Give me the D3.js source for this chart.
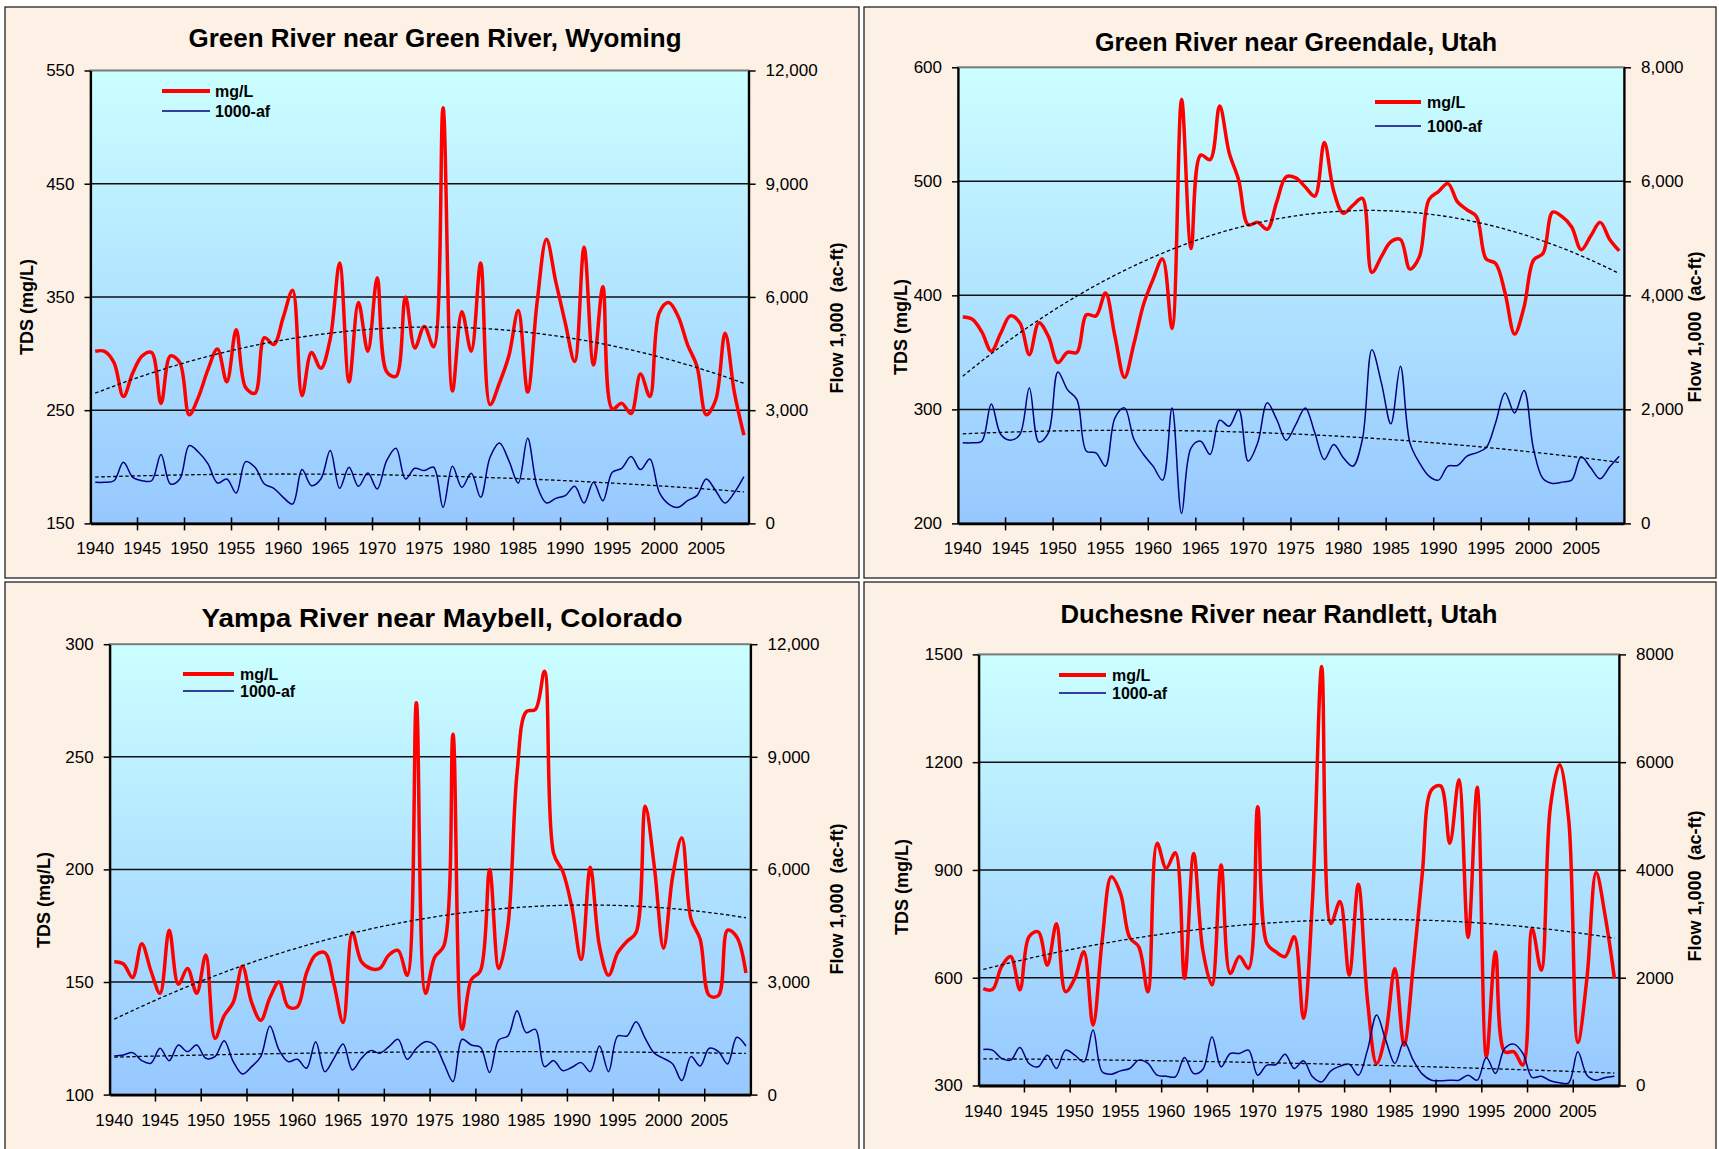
<!DOCTYPE html>
<html>
<head>
<meta charset="utf-8">
<script src="https://cdn.jsdelivr.net/npm/d3@7"></script>
<style>
  body { margin: 0; background: #fff; }
  svg { display: block; }
  text { font-family: "Liberation Sans", Arial, sans-serif; }
</style>
</head>
<body>
<svg width="1719" height="1149"></svg>
<script>
// categories
const years = d3.range(1940, 2010);
const yearLabels = [1940, 1945, 1950, 1955, 1960, 1965, 1970, 1975, 1980, 1985, 1990, 1995, 2000, 2005];

// Green River near Green River, Wyoming
const tdsWyoming = [302,302,292,262,283,298,301,256,298,292, 246,262,286,304,275,321,270,265,314,308,
  332,356,263,301,287,313,380,275,345,302, 367,284,280,350,305, 324,306,517,267,337,
  302,380,255,274,298, 338,266,345,401,363, 327,293,394,290,359, 251,256,247,282,262,
  336,345,333,308,289, 246,259,318,265,228];
const flowWyoming = [1089,1089,1130,1620,1220,1130,1130,1823,1044,1177, 2062,1885,1575,1070,1177,805,1637,1487,1044,929,
  690,513,1425,1000,1177,1930,929,1487,982,1336, 912,1664,1990,1177,1460, 1400,1487,425,1513,956,
  1327,690,1752,2133,1664, 1070,2257,1000,540,664, 735,982,540,1089,602, 1354,1460,1770,1425,1708,
  823,513,425,602,735, 1177,867,540,823,1239];

// Green River near Greendale, Utah
const tdsGreendale = [381,379,368,351,367,382,376,348,376,364, 341,350,350,383,382,402,364,328,358,392,
  414,432,371,572,441,523,519,566,525,501, 462,464,458,482,504, 503,495,487,534,491,
  472,479,485,420,434, 447,449,423,434,484, 491,498,482,475,469, 432,428,402,366,390,
  431,437,473,469,460, 440,452,464,449,439];
const flowGreendale = [1413,1413,1442,2096,1559,1460,1559,2376,1425,1588, 2657,2347,2172,1267,1238,1004,1851,2026,1471,1209,
  1004,759,2026,175,1325,1442,1209,1810,1705,1997, 1092,1413,2114,1822,1460, 1734,2026,1588,1121,1384,
  1150,1004,1471,3048,2464, 1746,2756,1413,1063,829, 759,1004,1016,1179,1238, 1325,1763,2289,1938,2330,
  1296,782,701,724,759, 1168,975,782,993,1179];

// Yampa River near Maybell, Colorado
const tdsYampa = [159,158,152,167,155,145,173,149,156,145, 162,125,135,141,157,141,133,143,150,139,
  139,154,162,163,149,132,172,159,156,156, 162,164,153,274,145, 161,166,260,129,151,
  155,200,156,175,243, 270,271,288,207,199, 183,160,201,166,153, 163,168,172,228,201,
  165,197,214,178,169, 144,144,173,170,154];
const flowYampa = [1030,1056,1118,905,834,1234,905,1322,1145,1322, 967,1012,1438,879,550,746,1012,1828,1189,879,
  941,701,1411,612,967,1349,657,967,1172,1101, 1278,1473,941,1234,1411, 1322,834,346,1473,1322,
  1260,586,1456,1562,2237, 1651,1740,746,905,639, 728,852,612,1296,612, 1562,1562,1944,1500,1101,
  967,817,373,1012,763, 1234,1145,817,1527,1296];

// Duchesne River near Randlett, Utah
const tdsDuchesne = [570,567,631,659,566,714,728,635,750,561, 598,672,468,705,881,835,712,686,561,974,
  905,948,598,946,677,580,914,612,659,626, 1076,696,672,659,714, 487,820,1466,751,812,
  607,860,538,361,445, 626,412,631,891,1123, 1134,974,1151,712,1130, 380,672,394,394,357,
  737,621,1076,1193,1040, 420,600,893,770,598];
const flowDuchesne = [669,656,502,471,706,409,347,563,316,656, 563,440,1028,254,211,272,316,471,409,192,
  173,161,520,223,297,904,347,594,594,656, 192,378,390,582,316, 458,161,68,272,359,
  396,192,656,1307,842, 409,811,471,211,99, 87,99,99,192,99, 520,223,687,768,594,
  149,173,87,50,50, 625,192,99,149,173];

// axis ticks
const ticksWyoming = [150, 250, 350, 450, 550];
const ticksGreendale = [200, 300, 400, 500, 600];
const ticksYampa = [100, 150, 200, 250, 300];
const ticksDuchesne = [300, 600, 900, 1200, 1500];
const flowTicks12k = [0, 3000, 6000, 9000, 12000];
const flowTicks8k = [0, 2000, 4000, 6000, 8000];

const panels = [
  { title: "Green River near Green River, Wyoming", tds: tdsWyoming, flow: flowWyoming,
    left: ticksWyoming, right: flowTicks12k, fmt: d3.format(","),
    box: [5, 7, 854, 571], plot: { l: 90.5, r: 748.6, t: 70.5, b: 523.4 },
    titleX: 435, titleY: 47, titleW: 493, ltX: 27, ltY: 307, rtX: 837, rtY: 318,
    leg: { x1: 162, x2: 210, y1: 91, y2: 111, tx: 215 } },
  { title: "Green River near Greendale, Utah", tds: tdsGreendale, flow: flowGreendale,
    left: ticksGreendale, right: flowTicks8k, fmt: d3.format(","),
    box: [864, 7, 852, 571], plot: { l: 958, r: 1624, t: 67.3, b: 523.4 },
    titleX: 1296, titleY: 51, titleW: 402, ltX: 901, ltY: 327, rtX: 1695, rtY: 327,
    leg: { x1: 1375, x2: 1421, y1: 102, y2: 126, tx: 1427 } },
  { title: "Yampa River near Maybell, Colorado", tds: tdsYampa, flow: flowYampa,
    left: ticksYampa, right: flowTicks12k, fmt: d3.format(","),
    box: [5, 582, 854, 580], plot: { l: 109.7, r: 750.5, t: 644.2, b: 1094.6 },
    titleX: 442, titleY: 627, titleW: 481, ltX: 44, ltY: 900, rtX: 837, rtY: 899,
    leg: { x1: 183, x2: 234, y1: 674, y2: 691, tx: 240 } },
  { title: "Duchesne River near Randlett, Utah", tds: tdsDuchesne, flow: flowDuchesne,
    left: ticksDuchesne, right: flowTicks8k, fmt: d3.format("d"),
    box: [864, 582, 852, 580], plot: { l: 978.7, r: 1619, t: 654.4, b: 1085.5 },
    titleX: 1279, titleY: 622.5, titleW: 437, ltX: 902, ltY: 887, rtX: 1695, rtY: 886,
    leg: { x1: 1059, x2: 1106, y1: 675, y2: 693, tx: 1112 } }
];

const svg = d3.select("svg");

const grad = svg.append("defs").append("linearGradient")
  .attr("id", "plotBg").attr("x1", 0).attr("y1", 0).attr("x2", 0).attr("y2", 1);
grad.append("stop").attr("offset", "0%").attr("stop-color", "#CCFFFF");
grad.append("stop").attr("offset", "100%").attr("stop-color", "#96C8FF");

// 2nd order polynomial trend, least squares (like the Excel trendline)
function quadFit(vals) {
  const S = [0, 0, 0, 0, 0], T = [0, 0, 0];
  vals.forEach((v, i) => {
    let p = 1;
    for (let k = 0; k < 5; k++) {
      S[k] += p;
      if (k < 3) T[k] += v * p;
      p *= i;
    }
  });
  const M = [[S[0], S[1], S[2], T[0]], [S[1], S[2], S[3], T[1]], [S[2], S[3], S[4], T[2]]];
  for (let c = 0; c < 3; c++) {
    for (let r = c + 1; r < 3; r++) {
      const f = M[r][c] / M[c][c];
      for (let k = c; k < 4; k++) M[r][k] -= f * M[c][k];
    }
  }
  const coef = [0, 0, 0];
  for (let r = 2; r >= 0; r--) {
    let s = M[r][3];
    for (let k = r + 1; k < 3; k++) s -= M[r][k] * coef[k];
    coef[r] = s / M[r][r];
  }
  return vals.map((v, i) => coef[0] + coef[1] * i + coef[2] * i * i);
}

function drawPanel(p) {
  const g = svg.append("g");
  const pl = p.plot;

  g.append("rect")
    .attr("x", p.box[0]).attr("y", p.box[1])
    .attr("width", p.box[2]).attr("height", p.box[3])
    .attr("fill", "#FDF1E6").attr("stroke", "#222").attr("stroke-width", 1.3);

  const x = d3.scaleBand().domain(years).range([pl.l, pl.r]);
  const cx = d => x(d) + x.bandwidth() / 2;
  const yL = d3.scaleLinear().domain([p.left[0], p.left[p.left.length - 1]]).range([pl.b, pl.t]);
  const yR = d3.scaleLinear().domain([p.right[0], p.right[p.right.length - 1]]).range([pl.b, pl.t]);

  g.append("rect")
    .attr("x", pl.l).attr("y", pl.t)
    .attr("width", pl.r - pl.l).attr("height", pl.b - pl.t)
    .attr("fill", "url(#plotBg)").attr("stroke", "#7a7a7a").attr("stroke-width", 2);

  // gridlines
  g.append("g").selectAll("line")
    .data(p.left.slice(1, -1))
    .join("line")
    .attr("x1", pl.l).attr("x2", pl.r)
    .attr("y1", d => yL(d)).attr("y2", d => yL(d))
    .attr("stroke", "#111").attr("stroke-width", 1.5);

  const smooth = d3.curveCatmullRom.alpha(0.5);
  const tdsLine = d3.line().x((d, i) => cx(years[i])).y(d => yL(d)).curve(smooth);
  const flowLine = d3.line().x((d, i) => cx(years[i])).y(d => yR(d)).curve(smooth);
  const tdsTrend = d3.line().x((d, i) => cx(years[i])).y(d => yL(d));
  const flowTrend = d3.line().x((d, i) => cx(years[i])).y(d => yR(d));

  g.append("path").datum(p.tds)
    .attr("fill", "none").attr("stroke", "#FF0000").attr("stroke-width", 3.5)
    .attr("stroke-linejoin", "round").attr("d", tdsLine);
  g.append("path").datum(quadFit(p.tds))
    .attr("fill", "none").attr("stroke", "#000").attr("stroke-width", 1.3)
    .attr("stroke-dasharray", "3.5,2.5").attr("d", tdsTrend);
  g.append("path").datum(p.flow)
    .attr("fill", "none").attr("stroke", "#000080").attr("stroke-width", 1.5)
    .attr("stroke-linejoin", "round").attr("d", flowLine);
  g.append("path").datum(quadFit(p.flow))
    .attr("fill", "none").attr("stroke", "#000").attr("stroke-width", 1.3)
    .attr("stroke-dasharray", "3.5,2.5").attr("d", flowTrend);

  // axes
  const axL = g.append("g").attr("transform", `translate(${pl.l},0)`)
    .call(d3.axisLeft(yL).tickValues(p.left).tickFormat(d3.format("d"))
      .tickSizeInner(6).tickSizeOuter(0).tickPadding(10));
  const axR = g.append("g").attr("transform", `translate(${pl.r},0)`)
    .call(d3.axisRight(yR).tickValues(p.right).tickFormat(p.fmt).tickSizeInner(7).tickSizeOuter(0).tickPadding(10));
  const axB = g.append("g").attr("transform", `translate(0,${pl.b})`)
    .call(d3.axisBottom(x).tickValues(yearLabels).tickSize(0).tickPadding(19));
  [axL, axR, axB].forEach(a => {
    a.attr("font-family", null).attr("font-size", null);
    a.select(".domain").attr("stroke", "#000").attr("stroke-width", 2.2);
    a.selectAll(".tick line").attr("stroke", "#000").attr("stroke-width", 1.5);
    a.selectAll(".tick text").attr("fill", "#000").style("font-size", "17px");
  });
  axB.select(".domain").attr("stroke-width", 2.8);

  // category tick marks between every fifth year
  g.append("g").selectAll("line")
    .data(yearLabels.slice(1))
    .join("line")
    .attr("x1", d => x(d)).attr("x2", d => x(d))
    .attr("y1", pl.b - 6).attr("y2", pl.b + 7)
    .attr("stroke", "#000").attr("stroke-width", 1.5);

  // titles
  g.append("text")
    .attr("x", p.titleX).attr("y", p.titleY)
    .attr("text-anchor", "middle")
    .attr("textLength", p.titleW).attr("lengthAdjust", "spacingAndGlyphs")
    .style("font-size", "26px").style("font-weight", "bold")
    .text(p.title);
  g.append("text")
    .attr("transform", `translate(${p.ltX},${p.ltY}) rotate(-90)`)
    .attr("text-anchor", "middle").attr("dy", "0.35em")
    .style("font-size", "18px").style("font-weight", "bold")
    .text("TDS (mg/L)");
  g.append("text")
    .attr("transform", `translate(${p.rtX},${p.rtY}) rotate(-90)`)
    .attr("text-anchor", "middle").attr("dy", "0.35em")
    .style("font-size", "18px").style("font-weight", "bold")
    .style("white-space", "pre")
    .text("Flow 1,000  (ac-ft)");

  // legend
  const lg = p.leg;
  g.append("line").attr("x1", lg.x1).attr("x2", lg.x2).attr("y1", lg.y1).attr("y2", lg.y1)
    .attr("stroke", "#FF0000").attr("stroke-width", 4);
  g.append("line").attr("x1", lg.x1).attr("x2", lg.x2).attr("y1", lg.y2).attr("y2", lg.y2)
    .attr("stroke", "#000080").attr("stroke-width", 1.5);
  g.append("text").attr("x", lg.tx).attr("y", lg.y1 + 6)
    .style("font-size", "16px").style("font-weight", "bold").text("mg/L");
  g.append("text").attr("x", lg.tx).attr("y", lg.y2 + 6)
    .style("font-size", "16px").style("font-weight", "bold").text("1000-af");
}

panels.forEach(drawPanel);
</script>
</body>
</html>
